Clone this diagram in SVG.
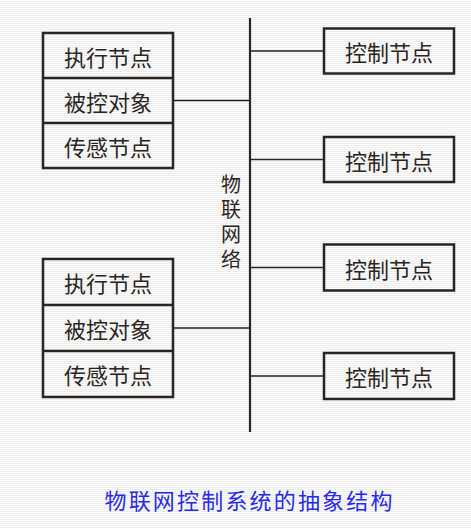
<svg xmlns="http://www.w3.org/2000/svg" width="471" height="529" viewBox="0 0 471 529">
<style>
.box{fill:none;stroke:#2b2522;stroke-width:2.5}
.ln{stroke:#2b2522;stroke-width:1.3;fill:none}
.bus{stroke:#2b2522;stroke-width:2.2;fill:none}
.t{font-family:"Noto Sans CJK SC","Noto Sans CJK JP",sans-serif;font-size:22px;fill:#2b2522;text-anchor:middle;dominant-baseline:central}
.v{font-family:"Noto Sans CJK SC","Noto Sans CJK JP",sans-serif;font-size:20px;fill:#2b2522;writing-mode:vertical-rl;letter-spacing:5px}
.cap{font-family:"Noto Sans CJK SC","Noto Sans CJK JP",sans-serif;font-size:22px;fill:#2a2ae6;text-anchor:middle;dominant-baseline:central}
</style>
<defs>
<pattern id="stripes" width="4" height="2" patternUnits="userSpaceOnUse">
<rect width="4" height="1" fill="#ffffff"/>
<rect y="1" width="4" height="1" fill="#ececec"/>
</pattern>
</defs>
<rect width="471" height="529" fill="url(#stripes)"/>
<g id="connectors">
<line class="bus" x1="250" y1="18" x2="250" y2="432"/>
<line class="ln" x1="173" y1="100.5" x2="250" y2="100.5"/>
<line class="ln" x1="173" y1="328" x2="250" y2="328"/>
<line class="ln" x1="250" y1="51" x2="324" y2="51"/>
<line class="ln" x1="250" y1="159.5" x2="324" y2="159.5"/>
<line class="ln" x1="250" y1="267.5" x2="324" y2="267.5"/>
<line class="ln" x1="250" y1="376" x2="324" y2="376"/>
</g>
<g id="network-label">
<text class="v" x="231" y="174">物联网络</text>
</g>
<g id="controlled-1">
<rect class="box" x="43" y="33" width="130" height="135"/>
<line class="box" x1="43" y1="78" x2="173" y2="78"/>
<line class="box" x1="43" y1="123" x2="173" y2="123"/>
<text class="t" x="108" y="55.5">执行节点</text>
<text class="t" x="108" y="100.5">被控对象</text>
<text class="t" x="108" y="145.5">传感节点</text>
</g>
<g id="controlled-2">
<rect class="box" x="43" y="259" width="130" height="138"/>
<line class="box" x1="43" y1="305" x2="173" y2="305"/>
<line class="box" x1="43" y1="351" x2="173" y2="351"/>
<text class="t" x="108" y="282">执行节点</text>
<text class="t" x="108" y="328">被控对象</text>
<text class="t" x="108" y="374">传感节点</text>
</g>
<g id="ctrl-1">
<rect class="box" x="324" y="28.5" width="130" height="45"/>
<text class="t" x="389" y="51">控制节点</text>
</g>
<g id="ctrl-2">
<rect class="box" x="324" y="137" width="130" height="45"/>
<text class="t" x="389" y="159.5">控制节点</text>
</g>
<g id="ctrl-3">
<rect class="box" x="324" y="244.5" width="130" height="46"/>
<text class="t" x="389" y="267.5">控制节点</text>
</g>
<g id="ctrl-4">
<rect class="box" x="324" y="353" width="130" height="46"/>
<text class="t" x="389" y="376">控制节点</text>
</g>
<text class="cap" x="248.5" y="499" textLength="288" lengthAdjust="spacing">物联网控制系统的抽象结构</text>
</svg>
